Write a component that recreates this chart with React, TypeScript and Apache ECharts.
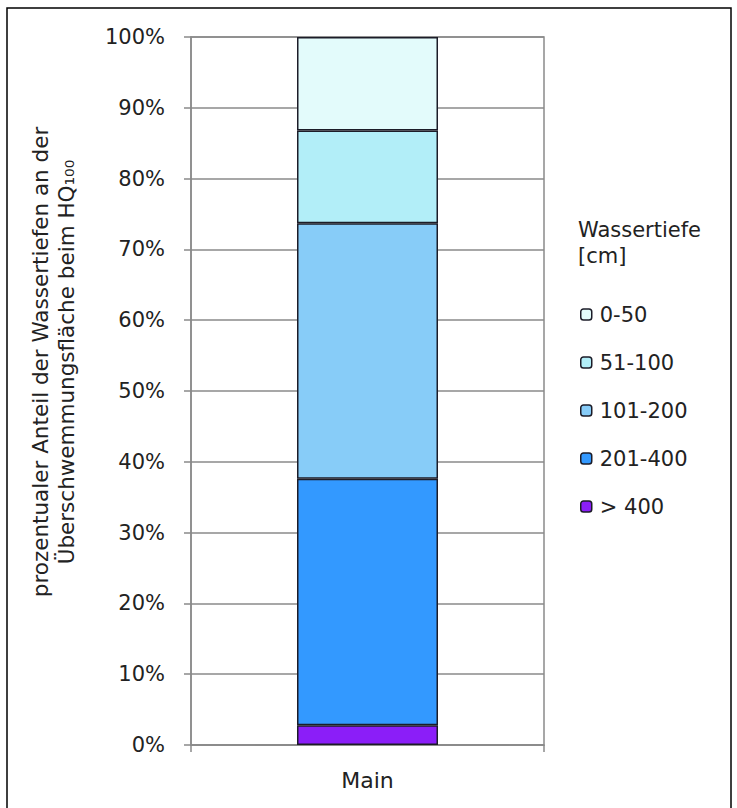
import React, { useEffect, useRef } from "react";
import * as echarts from "echarts";

const categories = ["Main"];
const legendOrder = ["0-50", "51-100", "101-200", "201-400", "> 400"];
const share_gt400 = [2.8];
const share_201_400 = [34.8];
const share_101_200 = [36.1];
const share_51_100 = [13.1];
const share_0_50 = [13.2];
const yTicks = [0, 10, 20, 30, 40, 50, 60, 70, 80, 90, 100];

const FONT = "DejaVu Sans";

export default function App() {
  const ref = useRef<HTMLDivElement>(null);
  useEffect(() => {
    document.body.style.margin = "0";
    const chart = echarts.init(ref.current!, null, { renderer: "svg" });
    const border = { borderColor: "#1c1c28", borderWidth: 1.5 };
    const mk = (name: string, data: number[], color: string) => ({
      name,
      type: "bar",
      stack: "total",
      data,
      barWidth: 141,
      itemStyle: { color, ...border },
    });
    chart.setOption({
      animation: false,
      backgroundColor: "#ffffff",
      textStyle: { fontFamily: FONT },
      grid: { left: 191, top: 37, right: 193, bottom: 63, show: true, borderColor: "#8a8a8a", borderWidth: 1.5 },
      xAxis: {
        type: "category",
        data: categories,
        axisLine: { lineStyle: { color: "#8a8a8a", width: 1.5 } },
        axisTick: { show: true, length: 7, lineStyle: { color: "#8a8a8a", width: 1.5 } },
        axisLabel: { color: "#222", fontSize: 22, fontFamily: FONT, margin: 24 },
      },
      yAxis: {
        type: "value",
        min: yTicks[0],
        max: yTicks[yTicks.length - 1],
        interval: 10,
        axisLine: { show: true, lineStyle: { color: "#8a8a8a", width: 1.5 } },
        axisTick: { show: true, length: 7, lineStyle: { color: "#8a8a8a", width: 1.5 } },
        splitLine: { lineStyle: { color: "#8a8a8a", width: 1.5 } },
        axisLabel: { color: "#222", fontSize: 21, fontFamily: FONT, margin: 26, formatter: "{value}%" },
      },
      legend: {
        orient: "vertical",
        left: 575,
        top: 299,
        itemWidth: 11,
        itemHeight: 11,
        itemGap: 27,
        data: legendOrder,
        textStyle: { color: "#222", fontSize: 21, fontFamily: FONT, padding: [0, 0, 0, 3] },
        itemStyle: { borderColor: "#1c1c28", borderWidth: 1.5 },
      },
      graphic: [
        {
          type: "rect",
          shape: { x: 7, y: 8, width: 724, height: 820 },
          style: { fill: "none", stroke: "#000", lineWidth: 1.5 },
          silent: true,
        },
        {
          type: "text",
          x: 578,
          y: 230,
          style: { text: "Wassertiefe", fill: "#222", font: `21px "${FONT}"`, textAlign: "left", textVerticalAlign: "middle" },
        },
        {
          type: "text",
          x: 578,
          y: 256,
          style: { text: "[cm]", fill: "#222", font: `21px "${FONT}"`, textAlign: "left", textVerticalAlign: "middle" },
        },
        {
          type: "text",
          x: 40,
          y: 362,
          rotation: Math.PI / 2,
          style: { text: "prozentualer Anteil der Wassertiefen an der", fill: "#222", font: `21.5px "${FONT}"`, textAlign: "center", textVerticalAlign: "middle" },
        },
        {
          type: "text",
          x: 66,
          y: 362,
          rotation: Math.PI / 2,
          style: { text: "Überschwemmungsfläche beim HQ₁₀₀", fill: "#222", font: `21.5px "${FONT}"`, textAlign: "center", textVerticalAlign: "middle" },
        },
      ],
      series: [
        mk("> 400", share_gt400, "#8b1ef8"),
        mk("201-400", share_201_400, "#3399ff"),
        mk("101-200", share_101_200, "#87ccf8"),
        mk("51-100", share_51_100, "#b2eef8"),
        mk("0-50", share_0_50, "#e3fbfb"),
      ],
    });
    return () => chart.dispose();
  }, []);
  return <div ref={ref} style={{ width: 737, height: 808 }} />;
}
